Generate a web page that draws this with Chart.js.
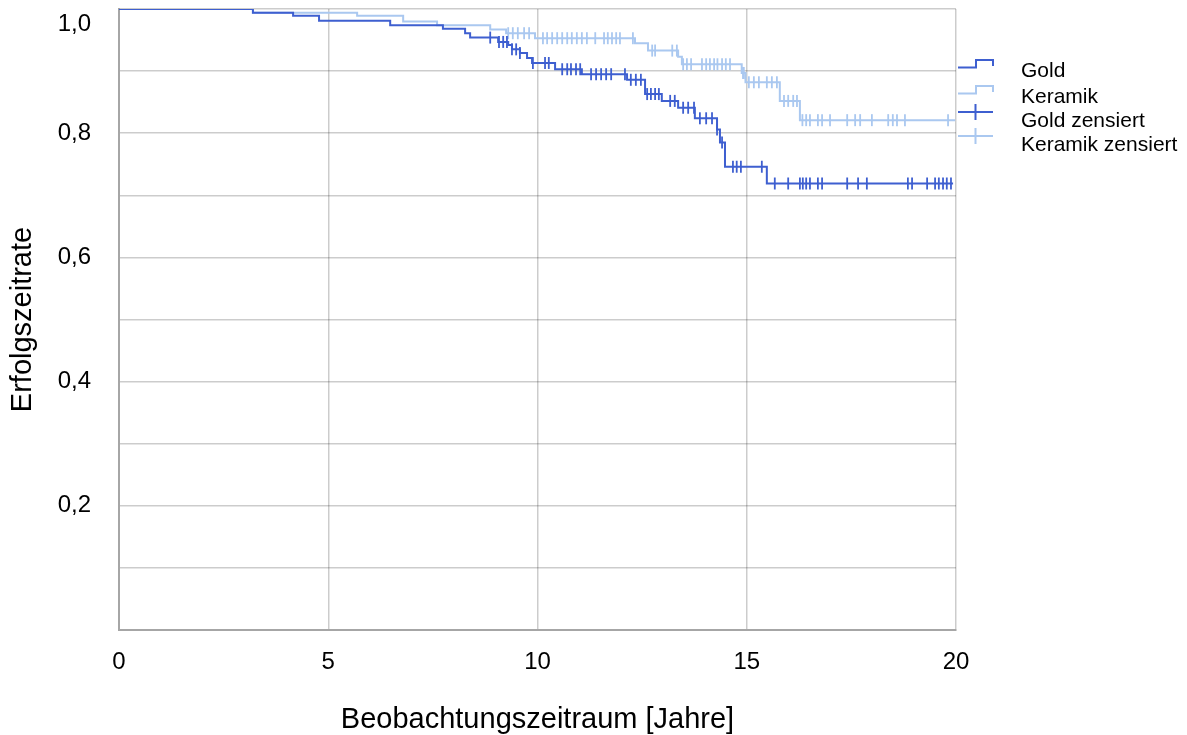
<!DOCTYPE html>
<html lang="de">
<head>
<meta charset="UTF-8">
<title>Erfolgszeitrate Gold / Keramik</title>
<script src="https://cdn.jsdelivr.net/npm/chart.js"></script>
<style>
  body { margin: 0; background: #fff; }
  #wrap { width: 1187px; height: 735px; }
</style>
</head>
<body>
<div id="wrap"><canvas id="kmChart" width="1187" height="735"></canvas></div>
<script>
// Kaplan-Meier steps: time in years, survival after the step
const goldT = [0, 3.20, 4.16, 4.78, 6.48, 7.74, 8.27, 8.39, 9.06, 9.30, 9.39, 9.58, 9.75, 9.87,
               10.42, 11.06, 12.14, 12.57, 12.97, 13.36, 13.76, 14.29, 14.36, 14.48, 15.48, 19.93];
const goldS = [1.000, 0.994, 0.989, 0.981, 0.974, 0.968, 0.961, 0.954, 0.947, 0.942, 0.935, 0.929, 0.921, 0.913,
               0.903, 0.895, 0.886, 0.863, 0.852, 0.841, 0.824, 0.806, 0.785, 0.746, 0.719, 0.719];

const keramikT = [0, 3.20, 5.69, 6.79, 7.60, 8.87, 9.25, 9.94, 12.33, 12.64, 13.36, 13.45,
                  14.88, 14.97, 15.79, 16.27, 19.98];
const keramikS = [1.000, 0.994, 0.989, 0.980, 0.974, 0.967, 0.961, 0.953, 0.945, 0.933, 0.923, 0.911,
                  0.897, 0.882, 0.852, 0.821, 0.821];

// censored observations (years)
const goldCens = [8.87, 9.08, 9.18, 9.27, 9.39, 9.49, 9.58, 9.89, 10.18, 10.27, 10.59, 10.71, 10.80, 10.92,
                  11.02, 11.28, 11.40, 11.52, 11.64, 11.76, 12.09, 12.23, 12.35, 12.47, 12.62, 12.71, 12.81,
                  12.90, 13.17, 13.28, 13.48, 13.60, 13.74, 13.88, 14.03, 14.17, 14.29, 14.41, 14.67, 14.76,
                  14.86, 15.36, 15.67, 15.99, 16.27, 16.34, 16.42, 16.51, 16.70, 16.80, 17.40, 17.66, 17.87,
                  18.85, 18.95, 19.31, 19.50, 19.59, 19.69, 19.78, 19.88];
const keramikCens = [9.30, 9.41, 9.53, 9.68, 9.80, 10.13, 10.23, 10.35, 10.47, 10.59, 10.71, 10.82, 10.94,
                     11.06, 11.18, 11.38, 11.59, 11.68, 11.78, 11.88, 11.97, 12.28, 12.74, 12.81, 13.22,
                     13.33, 13.48, 13.57, 13.67, 13.93, 14.03, 14.12, 14.22, 14.30, 14.41, 14.50, 14.60,
                     14.91, 14.93, 15.05, 15.17, 15.29, 15.48, 15.60, 15.72, 15.89, 15.99, 16.11, 16.20,
                     16.33, 16.42, 16.51, 16.70, 16.80, 16.99, 17.40, 17.59, 17.71, 17.99, 18.38, 18.49,
                     18.59, 18.78, 19.81];

const xTickLabels = ['0', '5', '10', '15', '20'];
const yTickLabels = ['', '', '0,2', '', '0,4', '', '0,6', '', '0,8', '', '1,0'];
const seriesNames = ['Gold', 'Keramik', 'Gold zensiert', 'Keramik zensiert'];

const GOLD = 'rgb(62, 95, 208)';
const KERAMIK = 'rgb(170, 200, 240)';
const FONT = "'Liberation Sans', Arial, sans-serif";

function toPoints(ts, ss) {
    return ts.map((t, i) => ({ x: t, y: ss[i] }));
}

// a censored mark sits on the curve at the time it occurs
function onCurve(cens, ts, ss) {
    return cens.map(t => {
        let s = ss[0];
        for (let i = 0; i < ts.length; i++) {
            if (ts[i] <= t) s = ss[i];
        }
        return { x: t, y: s };
    });
}

function censDataset(label, data, color, order) {
    return {
        label: label, data: data, showLine: false, order: order,
        pointStyle: 'line', rotation: 90, pointRadius: 6, pointHoverRadius: 6,
        pointBorderColor: color, pointBorderWidth: 1.8, borderColor: color
    };
}

function lineDataset(label, data, color, order) {
    return {
        label: label, data: data, stepped: true, order: order,
        borderColor: color, borderWidth: 2, pointRadius: 0, fill: false
    };
}

const legendPlugin = {
    id: 'kmLegend',
    afterDraw(chart) {
        const ctx = chart.ctx;
        const rows = [71, 97, 121, 145];
        const colors = [GOLD, KERAMIK, GOLD, KERAMIK];
        ctx.save();
        ctx.lineWidth = 2;
        rows.forEach((y, i) => {
            ctx.strokeStyle = colors[i];
            ctx.beginPath();
            if (i < 2) {
                ctx.moveTo(958, y - 3.5);
                ctx.lineTo(976, y - 3.5);
                ctx.lineTo(976, y - 11);
                ctx.lineTo(993, y - 11);
                ctx.lineTo(993, y - 5);
            } else {
                ctx.moveTo(958, y - 9);
                ctx.lineTo(993, y - 9);
                ctx.moveTo(975.5, y - 17);
                ctx.lineTo(975.5, y - 1);
            }
            ctx.stroke();
            ctx.fillStyle = '#000';
            ctx.font = '21px ' + FONT;
            ctx.textBaseline = 'middle';
            ctx.textAlign = 'left';
            ctx.fillText(seriesNames[i], 1021, y);
        });
        ctx.restore();
    }
};

new Chart(document.getElementById('kmChart'), {
    type: 'line',
    data: {
        datasets: [
            censDataset(seriesNames[2], onCurve(goldCens, goldT, goldS), GOLD, 0),
            lineDataset(seriesNames[0], toPoints(goldT, goldS), GOLD, 1),
            censDataset(seriesNames[3], onCurve(keramikCens, keramikT, keramikS), KERAMIK, 2),
            lineDataset(seriesNames[1], toPoints(keramikT, keramikS), KERAMIK, 3)
        ]
    },
    options: {
        responsive: false,
        animation: false,
        layout: { padding: { top: 9, right: 231, left: 0, bottom: 0 } },
        plugins: {
            legend: { display: false },
            tooltip: { enabled: false }
        },
        scales: {
            x: {
                type: 'linear',
                min: 0, max: 20,
                grid: { color: 'rgba(0,0,0,0.2)', lineWidth: 1.5, drawTicks: false },
                border: { color: '#a6a6a6', width: 2 },
                ticks: {
                    stepSize: 5, padding: 18, color: '#000', autoSkip: false,
                    font: { family: FONT, size: 24 },
                    callback: (v, i) => xTickLabels[i]
                },
                title: {
                    display: true, text: 'Beobachtungszeitraum [Jahre]', color: '#000',
                    font: { family: FONT, size: 29, lineHeight: 1 },
                    padding: { top: 0, bottom: 1 }
                },
                afterFit: (scale) => {
                    scale.height = 105;
                    scale.paddingLeft = 0;
                    scale.paddingRight = 0;
                }
            },
            y: {
                min: 0, max: 1,
                grid: { color: 'rgba(0,0,0,0.2)', lineWidth: 1.5, drawTicks: false },
                border: { color: '#a6a6a6', width: 2 },
                ticks: {
                    stepSize: 0.1, padding: 28, color: '#000', autoSkip: false,
                    font: (c) => ({ family: FONT, size: 24, lineHeight: c.index === 10 ? 1.3 : 1.2 }),
                    callback: (v, i) => (i === 10 ? ['', yTickLabels[i]] : yTickLabels[i])
                },
                title: {
                    display: true, text: 'Erfolgszeitrate', color: '#000',
                    font: { family: FONT, size: 29, lineHeight: 1 },
                    padding: { top: 8, bottom: 0 }
                },
                afterFit: (scale) => {
                    scale.width = 119;
                    scale.paddingTop = 0;
                    scale.paddingBottom = 0;
                }
            }
        }
    },
    plugins: [legendPlugin]
});
</script>
</body>
</html>
